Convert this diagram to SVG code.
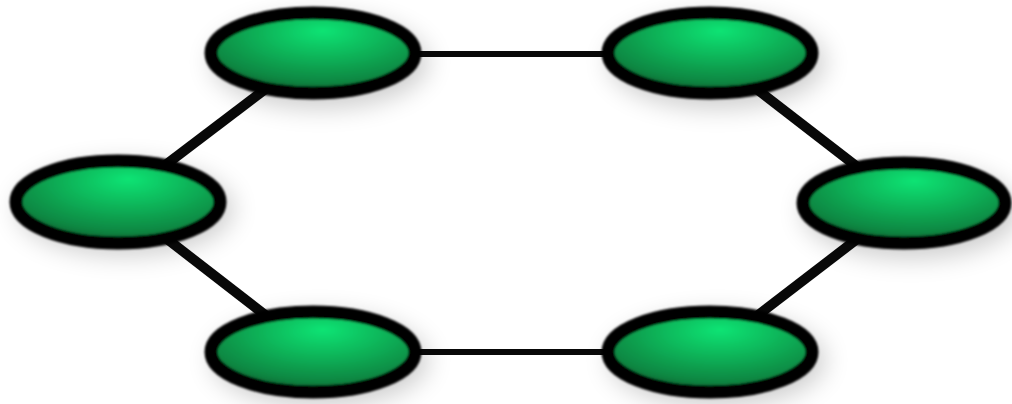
<svg xmlns="http://www.w3.org/2000/svg" width="1012" height="404" viewBox="0 0 1012 404">
  <defs>
    <radialGradient id="g" cx="0.55" cy="0.3" r="0.72" fx="0.55" fy="0.22">
      <stop offset="0" stop-color="#10e474"/>
      <stop offset="0.4" stop-color="#0cb65a"/>
      <stop offset="0.8" stop-color="#0a8742"/>
      <stop offset="1" stop-color="#075a2c"/>
    </radialGradient>
    <filter id="shadow" x="-50%" y="-80%" width="200%" height="260%">
      <feGaussianBlur stdDeviation="13"/>
    </filter>
    <filter id="soft" x="-10%" y="-20%" width="120%" height="140%">
      <feGaussianBlur stdDeviation="1.3"/>
    </filter>
  </defs>
  <style>
    .sh { fill: #000; opacity: 0.2; filter: url(#shadow); }
    .node { fill: url(#g); stroke: #040404; stroke-width: 13; filter: url(#soft); }
    .diag { stroke: #080808; stroke-width: 10; stroke-linecap: butt; }
    .hor { stroke: #080808; stroke-width: 6; }
  </style>
  <rect width="1012" height="404" fill="#ffffff"/>
  <g id="shadows">
    <ellipse class="sh" cx="320" cy="62" rx="108" ry="46"/>
    <ellipse class="sh" cx="717" cy="62" rx="108" ry="46"/>
    <ellipse class="sh" cx="125" cy="209" rx="108" ry="46"/>
    <ellipse class="sh" cx="911" cy="212" rx="108" ry="46"/>
    <ellipse class="sh" cx="320" cy="360" rx="108" ry="46"/>
    <ellipse class="sh" cx="717" cy="360" rx="108" ry="46"/>
  </g>
  <g id="connectors">
    <line class="hor" x1="313" y1="54" x2="710" y2="54"/>
    <line class="hor" x1="313" y1="352" x2="710" y2="352"/>
    <line class="diag" x1="118" y1="201" x2="313" y2="53"/>
    <line class="diag" x1="118" y1="201" x2="313" y2="352"/>
    <line class="diag" x1="710" y1="53" x2="904" y2="203"/>
    <line class="diag" x1="710" y1="352" x2="904" y2="203"/>
  </g>
  <g id="node-top-left"><ellipse class="node" cx="313" cy="53" rx="102" ry="40"/></g>
  <g id="node-top-right"><ellipse class="node" cx="710" cy="53" rx="102" ry="40"/></g>
  <g id="node-left"><ellipse class="node" cx="118" cy="202" rx="102" ry="41"/></g>
  <g id="node-right"><ellipse class="node" cx="904" cy="203" rx="101" ry="40"/></g>
  <g id="node-bottom-left"><ellipse class="node" cx="313" cy="352" rx="102" ry="40"/></g>
  <g id="node-bottom-right"><ellipse class="node" cx="710" cy="352" rx="102" ry="40"/></g>
</svg>
